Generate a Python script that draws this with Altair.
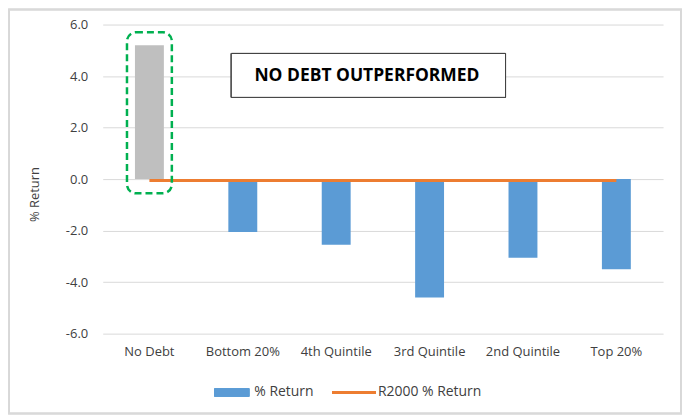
import altair as alt
import pandas as pd

categories = ["No Debt", "Bottom 20%", "4th Quintile", "3rd Quintile", "2nd Quintile", "Top 20%"]
pct_return = [5.2, -2.05, -2.55, -4.6, -3.05, -3.5]
r2000_return = [-0.05, -0.05, -0.05, -0.05, -0.05, -0.05]
y_ticks = [-6, -4, -2, 0, 2, 4, 6]
annotation = "NO DEBT OUTPERFORMED"
legend_labels = ["% Return", "R2000 % Return"]
highlight_cat = ["No Debt"]
highlight_top = [5.7]
highlight_bottom = [-0.55]

FONT = "Open Sans"
BLUE = "#5B9BD5"
GREY = "#BFBFBF"
ORANGE = "#ED7D31"
GREEN = "#00B050"

df = pd.DataFrame({"category": categories, "ret": pct_return, "r2000": r2000_return})
hl = pd.DataFrame({"category": highlight_cat, "top": highlight_top, "bottom": highlight_bottom})

x = alt.X("category:N", sort=categories, title=None,
          axis=alt.Axis(labelAngle=0, ticks=False, domain=False, labelPadding=12,
                        labelFont=FONT, labelFontSize=13, labelColor="#404040"))
yscale = alt.Scale(domain=[-6, 6], nice=False)
y = alt.Y("ret:Q", scale=yscale, title="% Return",
          axis=alt.Axis(values=y_ticks, labelExpr="replace(format(datum.value, '.1f'), '\u2212', '-')",
                        domain=False, ticks=False,
                        labelPadding=15, labelFont=FONT, labelFontSize=13, labelColor="#404040",
                        gridColor="#D9D9D9", gridWidth=1,
                        titleFont=FONT, titleFontSize=13, titleFontWeight="normal",
                        titleColor="#404040", titleX=-68, titleY=170, titleAngle=-90,
                        titleAlign="center", titleBaseline="middle"))

frame = alt.Chart(df).mark_rect(fill=None, fillOpacity=0, stroke="#D9D9D9", strokeWidth=1.5).encode(
    x=alt.value(-94), x2=alt.value(580), y=alt.value(-15), y2=alt.value(390))

bars = alt.Chart(df).mark_bar(size=29).encode(
    x=x, y=y,
    color=alt.condition(alt.datum.category == "No Debt", alt.value(GREY), alt.value(BLUE)))

line = alt.Chart(df).mark_line(color=ORANGE, strokeWidth=3).encode(
    x=alt.X("category:N", sort=categories),
    y=alt.Y("r2000:Q", scale=yscale))

box = alt.Chart(hl).mark_bar(size=45, fill=None, fillOpacity=0, stroke=GREEN, strokeWidth=2.5,
                             strokeDash=[7, 4], cornerRadius=9).encode(
    x=alt.X("category:N", sort=categories),
    y=alt.Y("top:Q", scale=yscale), y2="bottom:Q")

ann_rect = alt.Chart(df).mark_rect(fill="white", stroke="#404040", strokeWidth=1).encode(
    x=alt.value(129), x2=alt.value(404), y=alt.value(29), y2=alt.value(73))
ann_text = alt.Chart(pd.DataFrame({"t": [annotation]})).mark_text(
    font=FONT, fontSize=17.5, fontWeight="bold", color="black", align="center", baseline="middle").encode(
    x=alt.value(265), y=alt.value(52), text="t:N")

leg_sw = alt.Chart(df).mark_rect(color=BLUE).encode(
    x=alt.value(112), x2=alt.value(147), y=alt.value(365), y2=alt.value(373))
leg_ln = alt.Chart(df).mark_rule(color=ORANGE, strokeWidth=3).encode(
    x=alt.value(230), x2=alt.value(274), y=alt.value(369))
leg_txt = alt.Chart(pd.DataFrame({"t": legend_labels, "px": [152, 276]})).mark_text(
    font=FONT, fontSize=14, color="#404040", align="left", baseline="middle").encode(
    x=alt.X("px:Q", scale=None), y=alt.value(369), text="t:N")

chart = alt.layer(bars, frame, line, box, ann_rect, ann_text, leg_sw, leg_ln, leg_txt).properties(
    width=562, height=310,
    padding={"left": 95, "top": 16, "right": 20, "bottom": 85},
    autosize=alt.AutoSizeParams(type="none"),
).configure_view(stroke=None)

chart.save("out.html", embed_options={"renderer": "svg", "actions": False})
